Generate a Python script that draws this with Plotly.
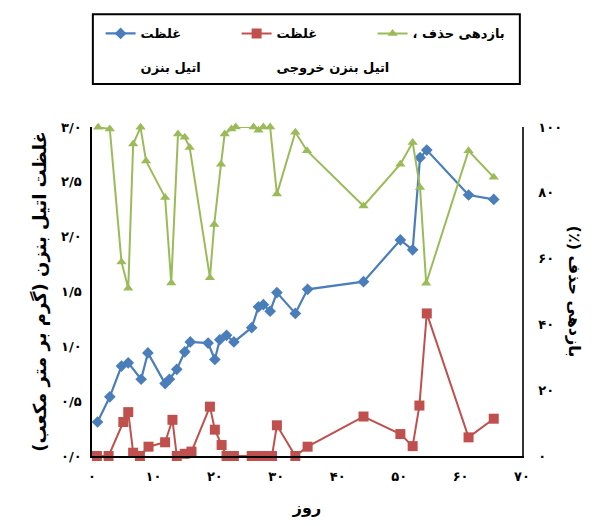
import plotly.graph_objects as go

# ---- data ----
blue_day = [0.9, 2.9, 4.8, 5.9, 8.0, 9.1, 11.9, 12.6, 13.8, 15.1, 16.0, 18.9, 20.0, 20.8,
            21.9, 23.1, 26.0, 27.1, 27.9, 29.0, 30.1, 33.1, 35.1, 44.2, 50.2, 52.2, 53.4,
            54.5, 61.3, 65.4]
blue_val = [0.31, 0.54, 0.82, 0.85, 0.70, 0.94, 0.66, 0.70, 0.79, 0.95, 1.04, 1.03, 0.88, 1.06,
            1.10, 1.04, 1.17, 1.36, 1.38, 1.32, 1.49, 1.30, 1.52, 1.59, 1.97, 1.88, 2.72,
            2.79, 2.38, 2.34]

red_day = [0.8, 2.7, 5.1, 5.9, 6.7, 7.8, 9.2, 11.9, 13.1, 13.8, 15.1, 16.2, 19.2, 20.0, 21.1,
           21.9, 23.1, 26.0, 27.1, 28.2, 29.3, 30.1, 33.1, 35.1, 44.2, 50.2, 52.2, 53.3, 54.5,
           61.3, 65.4]
red_val = [0, 0, 0.31, 0.40, 0.03, 0, 0.085, 0.125, 0.33, 0, 0.02, 0.04, 0.45, 0.24, 0.10,
           0, 0, 0, 0, 0, 0, 0.28, 0, 0.085, 0.36, 0.20, 0.09, 0.46, 1.30,
           0.17, 0.34]

green_day = [1.0, 2.9, 4.8, 5.9, 6.7, 7.9, 8.8, 11.9, 12.9, 14.0, 15.1, 15.9, 19.2, 19.9, 21.0,
             21.6, 22.7, 23.4, 26.3, 27.1, 27.9, 29.0, 30.1, 33.1, 35.0, 44.2, 50.2, 52.2,
             53.4, 54.4, 61.3, 65.4]
green_val = [99.9, 99.4, 59.0, 51.0, 94.8, 99.9, 89.7, 78.6, 52.6, 97.9, 96.9, 93.8, 54.2, 70.4,
             88.7, 97.9, 99.4, 100, 100, 99.0, 100, 100, 79.6, 98.4, 92.8, 76.0, 88.7, 95.3,
             81.6, 52.5, 92.8, 84.7]

RLM = "\u200f"
names = ["غلظت<br><br>اتیل بنزن", "غلظت<br><br>اتیل بنزن خروجی", "بازدهی حذف ،" + RLM]

x_tickvals = [0, 10, 20, 30, 40, 50, 60, 70]
x_ticktext = ["۰", "۱۰", "۲۰", "۳۰", "۴۰", "۵۰", "۶۰", "۷۰"]
y_tickvals = [0, 0.5, 1.0, 1.5, 2.0, 2.5, 3.0]
y_ticktext = ["۰/۰", "۰/۵", "۱/۰", "۱/۵", "۲/۰", "۲/۵", "۳/۰"]
y2_tickvals = [0, 20, 40, 60, 80, 100]
y2_ticktext = ["۰", "۲۰", "۴۰", "۶۰", "۸۰", "۱۰۰"]

x_title = "روز"
y_title = "غلظت اتیل بنزن (گرم بر متر مکعب)" + RLM
y2_title = "بازدهی حذف (٪)" + RLM

FONT = "DejaVu Sans"
BLUE = "#4a7ebb"
RED = "#c0504d"
GREEN = "#9bbb59"

fig = go.Figure()
fig.add_trace(go.Scatter(x=blue_day, y=blue_val, name=names[0], mode="lines+markers",
                         line=dict(color=BLUE, width=2.2),
                         marker=dict(symbol="diamond", size=9, color=BLUE),
                         cliponaxis=False))
fig.add_trace(go.Scatter(x=red_day, y=red_val, name=names[1], mode="lines+markers",
                         line=dict(color=RED, width=2),
                         marker=dict(symbol="square", size=10, color=RED),
                         cliponaxis=False))
fig.add_trace(go.Scatter(x=green_day, y=green_val, name=names[2], mode="lines+markers",
                         yaxis="y2",
                         line=dict(color=GREEN, width=2),
                         marker=dict(symbol="triangle-up", size=9, color=GREEN),
                         cliponaxis=False))

tickfont = dict(family=FONT, size=13, color="black", weight="bold")
xtitlefont = dict(family=FONT, size=16, color="black", weight="bold")
ytitlefont = dict(family=FONT, size=18, color="black", weight="bold")
y2titlefont = dict(family=FONT, size=16, color="black", weight="bold")

# the page body has an 8px default margin, so the figure is 8px smaller
fig.update_layout(
    width=590, height=518,
    margin=dict(l=84, r=76, t=119, b=70, autoexpand=False),
    paper_bgcolor="white", plot_bgcolor="white",
    showlegend=True,
    legend=dict(orientation="h", x=0.02, xanchor="left", y=1.33, yanchor="top",
                entrywidth=91, entrywidthmode="pixels", valign="top",
                bgcolor="rgba(0,0,0,0)", borderwidth=0,
                font=dict(family=FONT, size=13, color="black", weight="bold")),
    xaxis=dict(range=[0, 70], tickvals=x_tickvals, ticktext=x_ticktext, automargin=False,
               showgrid=False, zeroline=False, showline=True, linecolor="black",
               linewidth=1.5, ticks="", tickfont=tickfont, ticklabelstandoff=8,
               title=dict(text=x_title, font=xtitlefont, standoff=18)),
    yaxis=dict(range=[0, 3], tickvals=y_tickvals, ticktext=y_ticktext, automargin=False,
               showgrid=False, zeroline=False, showline=True, linecolor="black",
               linewidth=1.5, ticks="", tickfont=tickfont, ticklabelstandoff=6,
               title=dict(text=y_title, font=ytitlefont, standoff=10)),
    yaxis2=dict(range=[0, 100], tickvals=y2_tickvals, ticktext=y2_ticktext, automargin=False,
                overlaying="y", side="right",
                showgrid=False, zeroline=False, showline=True, linecolor="#333333",
                linewidth=1.5, ticks="", tickfont=tickfont, ticklabelstandoff=12),
    annotations=[dict(text=y2_title, xref="paper", yref="paper", x=1.123, y=0.5,
                      showarrow=False, textangle=90, font=y2titlefont,
                      xanchor="center", yanchor="middle")],
    shapes=[dict(type="rect", xref="paper", yref="paper", x0=0.002, x1=0.995,
                 y0=1.131, y1=1.343, line=dict(color="black", width=2),
                 fillcolor="rgba(0,0,0,0)")],
)

fig.write_html("out.html")
